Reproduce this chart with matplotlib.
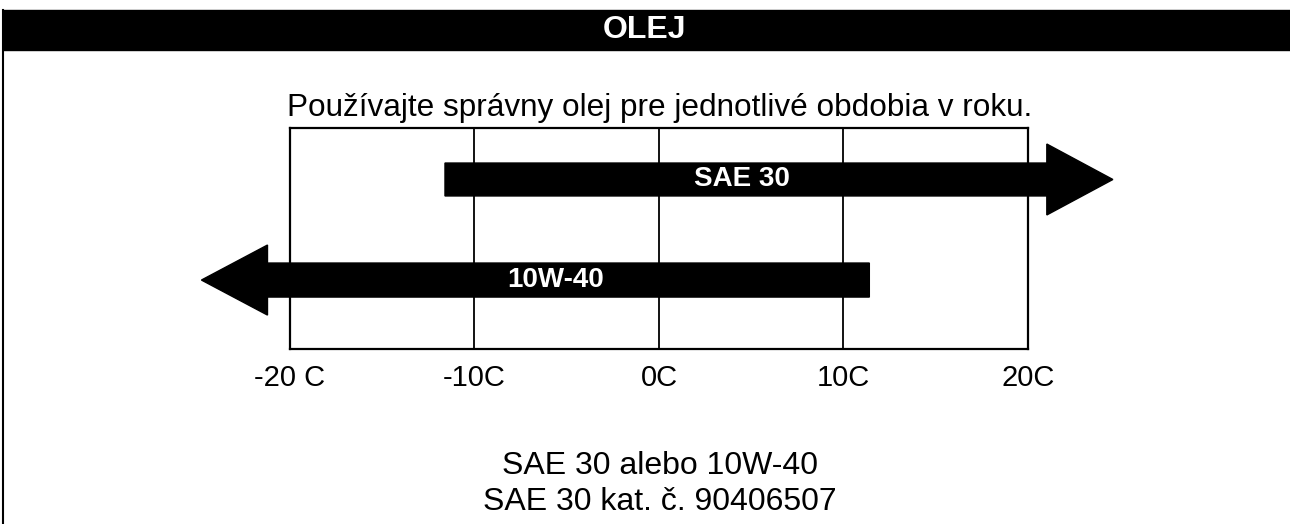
import matplotlib
matplotlib.use("Agg")
import matplotlib.pyplot as plt
from matplotlib.patches import FancyArrow, Rectangle
from matplotlib.lines import Line2D

plt.rcParams["font.family"] = ["Liberation Sans", "DejaVu Sans"]

# temperature scale (deg C) and its labels
temps = [-20, -10, 0, 10, 20]
temp_labels = ["-20 C", "-10C", "0C", "10C", "20C"]

# oil ranges: arrow tail -> arrow tip (deg C)
oils = ["SAE 30", "10W-40"]
oil_from = [-11.6, 11.4]
oil_to = [24.6, -24.8]

title = "OLEJ"
subtitle = "Používajte správny olej pre jednotlivé obdobia v roku."
notes = ["SAE 30 alebo 10W-40", "SAE 30 kat. č. 90406507"]

W, H = 1290, 524
fig = plt.figure(figsize=(W / 100, H / 100), dpi=100)
fig.patch.set_facecolor("white")

# header band + left frame line
fig.patches.append(Rectangle((3 / W, 1 - 50 / H), 1 - 3 / W, 40 / H,
                             transform=fig.transFigure, color="black", zorder=0))
fig.lines.append(Line2D([3 / W, 3 / W], [0, 1 - 10 / H], transform=fig.transFigure,
                        color="black", linewidth=1.5))
fig.text(0.5, 1 - 30 / H, title, color="white", fontsize=23, fontweight="bold",
         ha="center", va="center")
fig.text(660 / W, 1 - 116 / H, subtitle, fontsize=22.7, ha="center", va="baseline")

ax = fig.add_axes([290 / W, 1 - 349 / H, 738 / W, 221 / H])
ax.set_xlim(temps[0], temps[-1])
ax.set_ylim(0, 1)
for s in ax.spines.values():
    s.set_linewidth(1.6)
for t in temps[1:-1]:
    ax.axvline(t, color="black", linewidth=1.3, zorder=1)

rows = [0.767, 0.312]
body_w = [0.149, 0.154]
head_w = [0.321, 0.317]
label_x = [4.5, -5.6]
for name, x0, x1, y, bw, hw, lx in zip(oils, oil_from, oil_to, rows, body_w, head_w, label_x):
    arr = FancyArrow(x0, y, x1 - x0, 0, width=bw, head_width=hw, head_length=3.58,
                     length_includes_head=True, color="black", clip_on=False, zorder=3)
    ax.add_patch(arr)
    ax.text(lx, y, name, color="white", fontsize=20, fontweight="bold",
            ha="center", va="center", zorder=4)

ax.set_xticks(temps)
ax.set_xticklabels(temp_labels, fontsize=21)
ax.tick_params(axis="x", length=0, pad=11)
ax.set_yticks([])

fig.text(660 / W, 1 - 466 / H, notes[0], fontsize=23, ha="center", va="center")
fig.text(660 / W, 1 - 502 / H, notes[1], fontsize=23, ha="center", va="center")

fig.savefig("out.png", dpi=100)
